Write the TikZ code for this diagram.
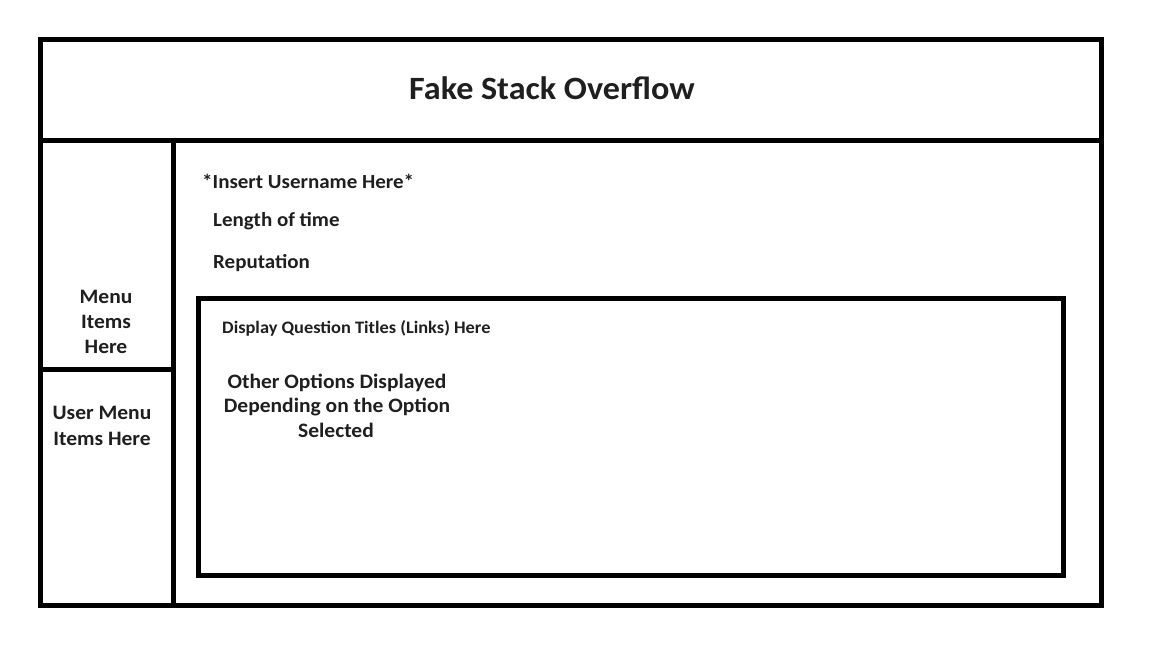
\documentclass[tikz,border=0pt]{standalone}
\usepackage{fontspec}
\setmainfont{Carlito}[FakeStretch=1.05]
\begin{document}
\begin{tikzpicture}[x=1pt,y=-1pt,
  frame/.style={line width=5pt,draw=black},
  lbl/.style={inner sep=0pt,text=black!88},
  big/.style={lbl,font=\bfseries\fontsize{20}{24}\selectfont},
  side/.style={lbl,anchor=base,font=\bfseries\fontsize{20.5}{24}\selectfont},
]
\useasboundingbox (0,0) rectangle (1152,648);
\fill[white] (0,0) rectangle (1152,648);
% outer frame and dividers
\draw[frame] (40.5,39.5) rectangle (1101.5,605);
\draw[frame] (40.5,140) -- (1101.5,140);
\draw[frame] (173.5,140) -- (173.5,608);
\draw[frame] (40.5,369) -- (173.5,369);
% inner content box
\draw[frame] (198.5,298.5) rectangle (1063.5,575);
% texts
\node[lbl,anchor=base,font=\bfseries\fontsize{32.5}{38}\selectfont] (title) at (552,99) {Fake Stack Overflow};
\node[big,anchor=base west] (user) at (202,188) {*Insert Username Here*};
\node[big,anchor=base west] (time) at (213,226) {Length of time};
\node[big,anchor=base west] (rep) at (213,268) {Reputation};
\node[lbl,anchor=base west,font=\bfseries\fontsize{17.5}{21}\selectfont] (disp) at (222,333.5) {Display Question Titles (Links) Here};
\node[side] (opt1) at (337,388.5) {Other Options Displayed};
\node[side] (opt2) at (337,412) {Depending on the Option};
\node[side] (opt3) at (336,437.5) {Selected};
\node[side] (m1) at (106,303) {Menu};
\node[side] (m2) at (106,328.5) {Items};
\node[side] (m3) at (106,353.5) {Here};
\node[side] (u1) at (102,419.5) {User Menu};
\node[side] (u2) at (102,445) {Items Here};
\end{tikzpicture}
\end{document}
